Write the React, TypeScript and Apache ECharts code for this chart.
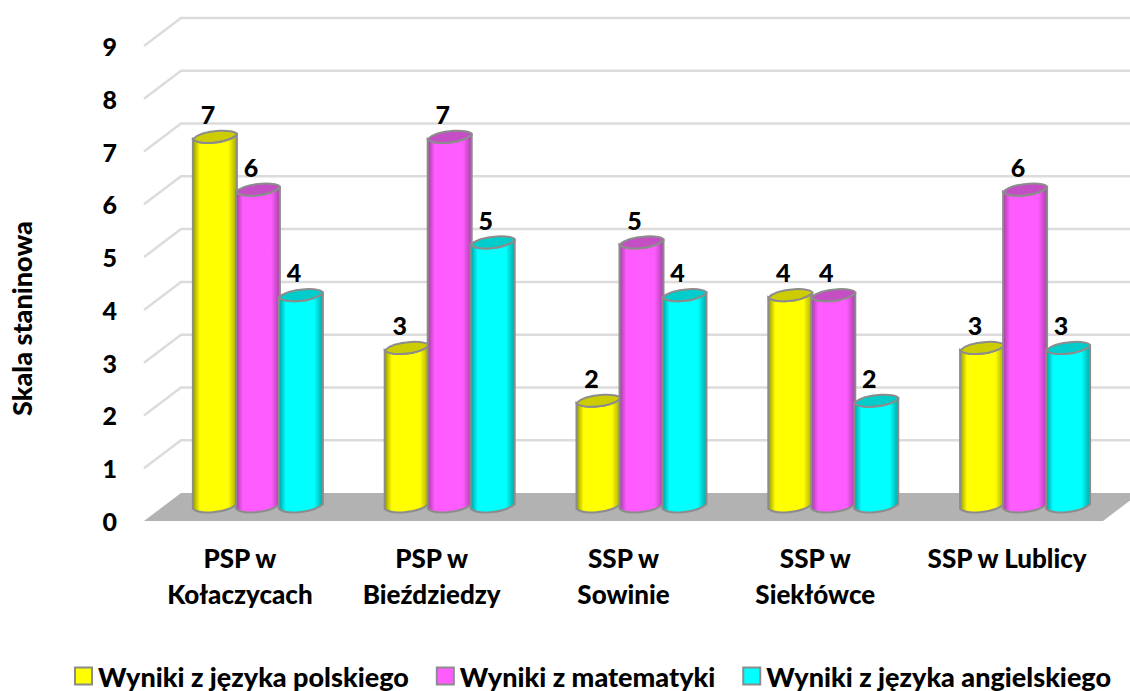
import React, { useEffect, useRef } from "react";
import * as echarts from "echarts";

const categories = ["PSP w\nKołaczycach", "PSP w\nBieździedzy", "SSP w\nSowinie", "SSP w\nSiekłówce", "SSP w Lublicy"];
const polish = [7, 3, 2, 4, 3];
const maths = [6, 7, 5, 4, 6];
const english = [4, 5, 4, 2, 3];
const seriesNames = ["Wyniki z języka polskiego", "Wyniki z matematyki", "Wyniki z języka angielskiego"];
const gridLevels = [1, 2, 3, 4, 5, 6, 7, 8, 9];

const FONT = "Lato, Carlito, sans-serif";
const WEIGHT = 900;
const DEPTH_X = 37;
const DEPTH_Y = 28;
const MID_X = 18;
const MID_Y = 14.5;
const PITCH = 43;
const RX = 22;
const RY = 5.5;
const TILT = 2.2;

const Cyl = echarts.graphic.extendShape({
  type: "cylBody",
  shape: { cx: 0, top: 0, bottom: 0 },
  buildPath(ctx: any, s: any) {
    const l = s.cx - RX;
    const r = s.cx + RX;
    ctx.moveTo(l, s.top + TILT);
    ctx.lineTo(l, s.bottom + TILT);
    ctx.bezierCurveTo(l + 6, s.bottom + RY * 1.45, r - 12, s.bottom + RY * 1.3, r, s.bottom - TILT);
    ctx.lineTo(r, s.top - TILT);
    ctx.bezierCurveTo(r - 12, s.top + RY * 1.3, l + 6, s.top + RY * 1.45, l, s.top + TILT);
    ctx.closePath();
  },
});
const CylTop = echarts.graphic.extendShape({
  type: "cylTop",
  shape: { cx: 0, top: 0 },
  buildPath(ctx: any, s: any) {
    const l = s.cx - RX;
    const r = s.cx + RX;
    ctx.moveTo(l, s.top + TILT);
    ctx.bezierCurveTo(l + 6, s.top + RY * 1.45, r - 12, s.top + RY * 1.3, r, s.top - TILT);
    ctx.bezierCurveTo(r + 1, s.top - RY * 1.5, l + 10, s.top - RY * 1.5, l, s.top + TILT);
    ctx.closePath();
  },
});
echarts.graphic.registerShape("cylBody", Cyl);
echarts.graphic.registerShape("cylTop", CylTop);

function bodyFill(edgeL: string, mid: string, edgeR: string) {
  return new echarts.graphic.LinearGradient(0, 0, 1, 0, [
    { offset: 0, color: edgeL },
    { offset: 0.16, color: mid },
    { offset: 0.8, color: mid },
    { offset: 1, color: edgeR },
  ]);
}

const palette = [
  { main: "#ffff00", edgeL: "#9a9a00", edgeR: "#a8a800", top: "#cccc00" },
  { main: "#ff5cff", edgeL: "#a43da4", edgeR: "#a83fa8", top: "#c44ec4" },
  { main: "#00ffff", edgeL: "#00a0a0", edgeR: "#00a8a8", top: "#00cccc" },
];

function cylinderSeries(name: string, values: number[], idx: number) {
  const c = palette[idx];
  return {
    type: "custom",
    name,
    z: 5 + idx,
    clip: false,
    itemStyle: { color: c.main },
    data: values.map((v, i) => [i, v]),
    encode: { x: 0, y: 1 },
    renderItem: (_p: any, api: any) => {
      const cat = api.value(0);
      const val = api.value(1);
      const head = api.coord([cat, val]);
      const base = api.coord([cat, 0]);
      const cx = head[0] + MID_X + (idx - 1) * PITCH;
      const top = head[1] - MID_Y;
      const bottom = base[1] - MID_Y;
      return {
        type: "group",
        children: [
          {
            type: "cylBody",
            shape: { cx, top, bottom },
            style: { fill: bodyFill(c.edgeL, c.main, c.edgeR), stroke: "#8c8c8c", lineWidth: 2 },
          },
          {
            type: "cylTop",
            shape: { cx, top },
            style: { fill: c.top, stroke: "#8c8c8c", lineWidth: 2 },
          },
          {
            type: "text",
            z2: 50,
            style: {
              x: cx - 7,
              y: top - 23,
              text: String(val),
              align: "center",
              verticalAlign: "middle",
              font: `${WEIGHT} 25px ${FONT}`,
              fill: "#000",
            },
          },
        ],
      };
    },
  };
}

export default function App() {
  const ref = useRef<HTMLDivElement>(null);
  useEffect(() => {
    document.body.style.margin = "0";
    const chart = echarts.init(ref.current!, null, { renderer: "svg" });
    chart.setOption({
      animation: false,
      backgroundColor: "#fff",
      textStyle: { fontFamily: FONT },
      grid: { left: 140, right: 27, top: 46, bottom: 170 },
      legend: {
        left: 74,
        top: 658,
        padding: 0,
        itemWidth: 17,
        itemHeight: 17,
        itemGap: 27,
        selectedMode: false,
        icon: "rect",
        textStyle: { fontFamily: FONT, fontWeight: WEIGHT, fontSize: 27, lineHeight: 30, color: "#000", padding: [0, 0, 6, 1] },
        data: seriesNames.map((name, i) => ({
          name,
          itemStyle: { color: palette[i].main, borderColor: "#8c8c8c", borderWidth: 2 },
        })),
      },
      xAxis: {
        type: "category",
        data: categories,
        axisLine: { show: false },
        axisTick: { show: false },
        axisLabel: {
          interval: 0,
          margin: 19,
          verticalAlign: "top",
          lineHeight: 36,
          fontFamily: FONT,
          fontWeight: WEIGHT,
          fontSize: 26,
          color: "#000",
        },
      },
      yAxis: {
        type: "value",
        min: 0,
        max: 9,
        interval: 1,
        name: "Skala staninowa",
        nameLocation: "middle",
        nameGap: 109,
        nameRotate: 90,
        nameTextStyle: { fontFamily: FONT, fontWeight: WEIGHT, fontSize: 27, color: "#000", padding: [0, 70, 0, 0] },
        axisLine: { show: false },
        axisTick: { show: false },
        splitLine: { show: false },
        axisLabel: { margin: 27, fontFamily: FONT, fontWeight: WEIGHT, fontSize: 25, color: "#000" },
      },
      series: [
        {
          type: "custom",
          name: "floor",
          z: 1,
          silent: true,
          clip: false,
          data: [[0, 0]],
          encode: { x: 0, y: 1 },
          renderItem: (p: any, api: any) => {
            const y = api.coord([0, api.value(1)])[1];
            const l = p.coordSys.x;
            const r = l + p.coordSys.width;
            return {
              type: "polygon",
              shape: { points: [[l, y], [l + DEPTH_X, y - DEPTH_Y], [r + DEPTH_X, y - DEPTH_Y], [r, y]] },
              style: { fill: "#b2b2b2" },
            };
          },
        },
        {
          type: "custom",
          name: "walls",
          z: 1,
          silent: true,
          clip: false,
          data: gridLevels.map((v) => [0, v]),
          encode: { x: 0, y: 1 },
          renderItem: (p: any, api: any) => {
            const y = api.coord([0, api.value(1)])[1];
            const l = p.coordSys.x;
            const r = l + p.coordSys.width;
            return {
              type: "polyline",
              shape: { points: [[l, y], [l + DEPTH_X, y - DEPTH_Y], [r + DEPTH_X, y - DEPTH_Y]] },
              style: { fill: "none", stroke: "#dcdcdc", lineWidth: 2.5 },
            };
          },
        },
        cylinderSeries(seriesNames[0], polish, 0),
        cylinderSeries(seriesNames[1], maths, 1),
        cylinderSeries(seriesNames[2], english, 2),
      ],
    });
    return () => chart.dispose();
  }, []);
  return <div ref={ref} style={{ width: 1130, height: 691 }} />;
}
